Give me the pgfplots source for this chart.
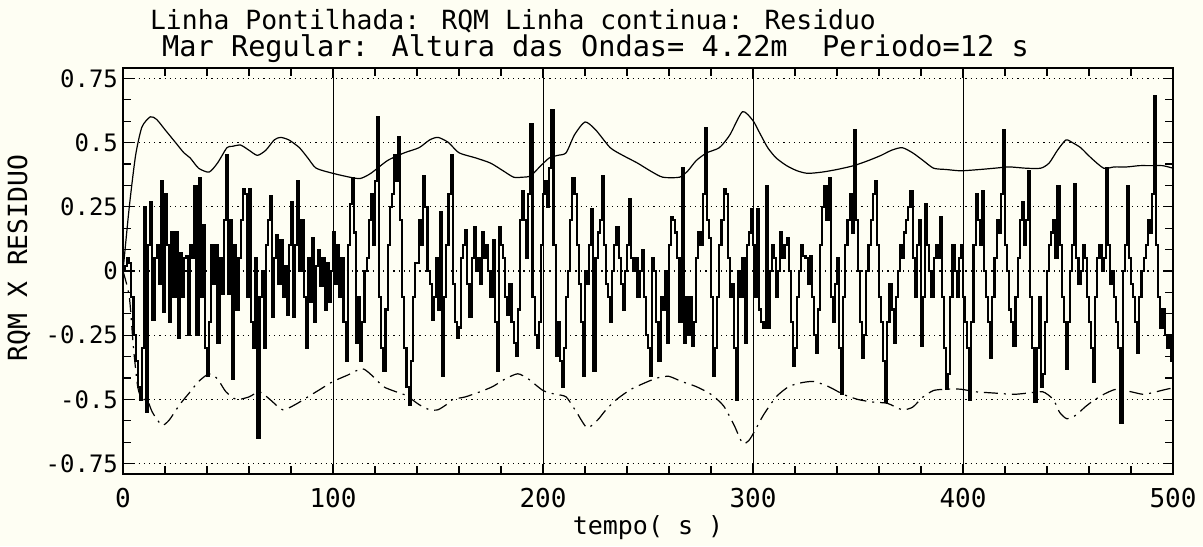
\documentclass[border=0pt]{standalone}
\usepackage{fontspec}
\setmainfont{DejaVu Sans Mono}
\usepackage{pgfplots}
\pgfplotsset{compat=1.18}
\definecolor{paper}{RGB}{254,254,243}
\begin{document}
\begin{tikzpicture}
\fill[paper] (0pt,0pt) rectangle (601.5pt,273pt);
\path[use as bounding box] (0pt,0pt) rectangle (601.5pt,273pt);
\begin{axis}[
  at={(61.5pt,36pt)}, anchor=south west,
  width=525pt, height=203pt, scale only axis,
  xmin=0, xmax=500, ymin=-0.79, ymax=0.79,
  axis line style={line width=1pt},
  xtick={0,100,200,300,400,500},
  ytick={-0.75,-0.5,-0.25,0,0.25,0.5,0.75},
  yticklabels={-0.75,-0.5,-0.25,0,0.25,0.5,0.75},
  xticklabels={0,100,200,300,400,500},
  minor x tick num=4, minor y tick num=2,
  tick align=inside, major tick length=5pt, minor tick length=4pt,
  tick style={line width=0.6pt,black},
  xmajorgrids, ymajorgrids,
  major x grid style={line width=0.5pt,black},
  major y grid style={line width=0.6pt,black,dotted},
  xticklabel style={font=\fontsize{13}{13}\selectfont, yshift=-3.5pt},
  yticklabel style={font=\fontsize{12}{12}\selectfont, xshift=1pt},
  clip=true,
]
% residual
\addplot[const plot, black, line width=1.05pt] coordinates {
(0,0)(1,0.02)(2,0.05)(3,0.03)(4,-0.1)(5,-0.25)(6,-0.35)(7,-0.45)(8,-0.5)(9,-0.3)
(10,0.25)(11,-0.55)(12,0.1)(13,0.27)(14,-0.19)(15,0.05)(16,0.1)(17,-0.05)(18,0.35)(19,-0.16)
(20,0.3)(21,0.1)(22,-0.2)(23,0.15)(24,-0.1)(25,0.15)(26,-0.26)(27,0.07)(28,-0.1)(29,0.05)
(30,0.06)(31,-0.25)(32,0.1)(33,0.05)(34,0.33)(35,-0.25)(36,0.36)(37,-0.1)(38,0.18)(39,-0.3)
(40,-0.41)(41,-0.2)(42,0.1)(43,-0.05)(44,0.1)(45,-0.28)(46,0.05)(47,-0.09)(48,0.2)(49,0.45)
(50,-0.09)(51,0.2)(52,-0.42)(53,0.1)(54,-0.15)(55,0.05)(56,0.2)(57,0.32)(58,0.3)(59,-0.1)
(60,0.32)(61,-0.2)(62,-0.3)(63,0.05)(64,-0.65)(65,-0.1)(66,0.0)(67,-0.3)(68,0.1)(69,0.2)
(70,0.29)(71,-0.18)(72,0.05)(73,0.14)(74,-0.05)(75,0.12)(76,-0.1)(77,0.02)(78,-0.17)(79,0.1)
(80,0.27)(81,-0.18)(82,0.1)(83,0.35)(84,0.0)(85,0.2)(86,-0.1)(87,-0.3)(88,0.05)(89,-0.12)
(90,0.13)(91,-0.2)(92,0.02)(93,0.08)(94,-0.06)(95,0.05)(96,-0.15)(97,0.03)(98,-0.12)(99,0.0)
(100,0.15)(101,-0.05)(102,0.1)(103,-0.1)(104,0.05)(105,-0.2)(106,-0.35)(107,0.1)(108,0.26)(109,0.36)
(110,0.15)(111,-0.28)(112,-0.1)(113,-0.35)(114,-0.2)(115,0.0)(116,0.05)(117,0.2)(118,0.3)(119,0.1)
(120,0.35)(121,0.6)(122,-0.1)(123,-0.3)(124,-0.39)(125,-0.15)(126,0.1)(127,0.25)(128,0.3)(129,0.45)
(130,0.35)(131,0.52)(132,0.2)(133,-0.1)(134,-0.3)(135,-0.45)(136,-0.52)(137,-0.35)(138,-0.1)(139,0.03)
(140,0.03)(141,0.2)(142,0.1)(143,0.37)(144,0.25)(145,0.0)(146,-0.05)(147,-0.19)(148,-0.1)(149,0.05)
(150,-0.15)(151,0.23)(152,-0.41)(153,-0.1)(154,0.1)(155,0.3)(156,0.45)(157,-0.05)(158,-0.2)(159,-0.26)
(160,-0.22)(161,0.05)(162,0.1)(163,0.16)(164,-0.05)(165,-0.18)(166,0.05)(167,0.17)(168,0.0)(169,0.05)
(170,-0.05)(171,0.15)(172,0.05)(173,0.1)(174,0.0)(175,-0.1)(176,0.12)(177,-0.2)(178,-0.39)(179,0.17)
(180,0.1)(181,0.05)(182,-0.1)(183,-0.17)(184,-0.05)(185,-0.2)(186,-0.28)(187,-0.33)(188,-0.15)(189,0.2)
(190,0.31)(191,0.2)(192,0.05)(193,0.3)(194,0.57)(195,-0.1)(196,-0.25)(197,-0.3)(198,-0.2)(199,0.1)
(200,0.3)(201,0.35)(202,0.25)(203,0.4)(204,0.625)(205,0.1)(206,-0.33)(207,-0.2)(208,-0.35)(209,-0.45)
(210,-0.3)(211,-0.1)(212,0.0)(213,0.2)(214,0.36)(215,0.3)(216,0.1)(217,-0.05)(218,-0.2)(219,-0.41)
(220,0.0)(221,-0.05)(222,0.1)(223,0.24)(224,-0.39)(225,0.05)(226,0.15)(227,0.2)(228,0.37)(229,0.1)
(230,-0.05)(231,-0.1)(232,-0.2)(233,0.0)(234,0.1)(235,0.17)(236,0.05)(237,-0.05)(238,-0.15)(239,0.0)
(240,0.1)(241,0.28)(242,0.05)(243,0.0)(244,0.05)(245,-0.1)(246,0.0)(247,0.08)(248,-0.1)(249,-0.25)
(250,-0.3)(251,-0.41)(252,0.05)(253,0.0)(254,-0.2)(255,-0.35)(256,-0.1)(257,-0.15)(258,0.0)(259,-0.28)
(260,0.1)(261,0.21)(262,0.2)(263,0.15)(264,0.05)(265,-0.2)(266,0.4)(267,-0.28)(268,-0.1)(269,-0.25)
(270,-0.1)(271,-0.29)(272,-0.2)(273,0.05)(274,0.15)(275,0.1)(276,0.3)(277,0.555)(278,0.2)(279,0.13)
(280,-0.1)(281,-0.41)(282,-0.3)(283,-0.1)(284,0.1)(285,0.2)(286,0.32)(287,0.3)(288,0.05)(289,-0.1)
(290,-0.05)(291,-0.3)(292,-0.5)(293,0.0)(294,-0.1)(295,0.05)(296,-0.28)(297,0.1)(298,0.15)(299,0.24)
(300,0.1)(301,-0.1)(302,0.24)(303,-0.15)(304,-0.2)(305,-0.22)(306,0.33)(307,-0.22)(308,0.0)(309,0.1)
(310,0.05)(311,-0.1)(312,0.0)(313,0.15)(314,0.05)(315,0.1)(316,0.13)(317,0.0)(318,-0.2)(319,-0.37)
(320,-0.3)(321,-0.1)(322,0.0)(323,0.1)(324,0.06)(325,0.05)(326,-0.05)(327,0.06)(328,-0.1)(329,-0.25)
(330,-0.32)(331,-0.15)(332,0.1)(333,0.25)(334,0.33)(335,0.2)(336,0.36)(337,-0.1)(338,-0.2)(339,-0.05)
(340,0.05)(341,-0.3)(342,-0.48)(343,-0.1)(344,0.1)(345,0.2)(346,0.3)(347,0.15)(348,0.55)(349,0.2)
(350,0.0)(351,-0.2)(352,-0.34)(353,-0.25)(354,0.0)(355,0.1)(356,0.2)(357,0.3)(358,0.35)(359,0.1)
(360,-0.1)(361,-0.2)(362,-0.35)(363,-0.51)(364,-0.2)(365,-0.05)(366,-0.15)(367,-0.28)(368,-0.1)(369,0.0)
(370,0.1)(371,0.05)(372,0.15)(373,0.2)(374,0.25)(375,0.31)(376,0.05)(377,-0.1)(378,0.1)(379,0.2)
(380,-0.29)(381,-0.1)(382,0.26)(383,0.1)(384,0.0)(385,-0.1)(386,0.05)(387,0.1)(388,0.05)(389,0.21)
(390,-0.1)(391,-0.3)(392,-0.46)(393,-0.4)(394,-0.1)(395,0.1)(396,0.0)(397,-0.1)(398,0.05)(399,0.1)
(400,-0.1)(401,-0.2)(402,-0.3)(403,-0.5)(404,-0.2)(405,0.1)(406,0.3)(407,0.2)(408,0.1)(409,0.31)
(410,0.0)(411,-0.1)(412,-0.2)(413,-0.34)(414,-0.1)(415,0.05)(416,0.2)(417,0.15)(418,0.3)(419,0.55)
(420,0.1)(421,0.0)(422,-0.15)(423,-0.2)(424,-0.29)(425,-0.1)(426,0.05)(427,0.2)(428,0.27)(429,0.1)
(430,0.2)(431,0.39)(432,-0.1)(433,-0.3)(434,-0.51)(435,-0.3)(436,-0.1)(437,-0.45)(438,-0.4)(439,-0.2)
(440,0.0)(441,0.1)(442,0.15)(443,0.2)(444,0.05)(445,0.33)(446,0.1)(447,-0.1)(448,-0.2)(449,-0.38)
(450,-0.2)(451,0.0)(452,0.1)(453,0.34)(454,0.05)(455,-0.05)(456,0.0)(457,0.1)(458,0.05)(459,-0.1)
(460,-0.2)(461,-0.3)(462,-0.43)(463,-0.1)(464,0.05)(465,0.1)(466,0.0)(467,0.05)(468,0.4)(469,0.1)
(470,-0.05)(471,0.0)(472,-0.1)(473,-0.2)(474,-0.3)(475,-0.59)(476,0.0)(477,0.1)(478,0.33)(479,0.05)
(480,-0.05)(481,-0.1)(482,-0.2)(483,-0.32)(484,-0.1)(485,0.0)(486,0.05)(487,0.1)(488,0.2)(489,0.15)
(490,0.3)(491,0.68)(492,0.1)(493,-0.1)(494,-0.22)(495,-0.15)(496,-0.25)(497,-0.3)(498,-0.25)(499,-0.35)
(500,-0.3)
};
% RQM upper
\addplot[black, line width=0.6pt, smooth, tension=0.4] coordinates {
(0,0)(3,0.25)(6,0.45)(9,0.56)(13,0.6)(16,0.59)(20,0.55)(25,0.5)(29,0.46)(32,0.44)(36,0.40)
(41,0.385)(45,0.42)(49.5,0.48)(52,0.485)(56,0.49)(60,0.47)(64,0.45)(68,0.47)(72,0.51)(75,0.52)
(79,0.51)(84,0.48)(88,0.44)(92,0.40)(100,0.38)(108,0.365)(113,0.36)(118,0.38)(126,0.43)(134,0.46)
(141,0.48)(146,0.51)(150,0.52)(155,0.5)(160,0.46)(168,0.44)(175,0.42)(181,0.39)(186,0.365)(190,0.365)
(194,0.37)(199,0.41)(203,0.44)(207,0.45)(211,0.46)(215,0.53)(220,0.58)(225,0.55)(232,0.48)(238,0.45)
(245,0.42)(251,0.39)(257,0.365)(265,0.365)(269,0.39)(273,0.43)(278,0.46)(284,0.48)(289,0.53)(295,0.62)
(300,0.585)(303,0.54)(307,0.48)(311,0.44)(316,0.41)(321,0.39)(326,0.38)(333,0.385)(340,0.395)(348,0.41)
(355,0.43)(361,0.45)(366,0.47)(371,0.48)(376,0.46)(381,0.43)(386,0.40)(392,0.395)(399,0.39)(408,0.395)
(415,0.40)(422,0.405)(430,0.40)(437,0.40)(441,0.42)(445,0.47)(449,0.51)(452,0.50)(456,0.48)(461,0.44)
(467,0.40)(472,0.405)(478,0.405)(484,0.41)(489,0.41)(495,0.41)(500,0.40)
};
% RQM lower
\addplot[black, line width=0.6pt, smooth, tension=0.4, dash pattern=on 7pt off 3pt on 1pt off 3pt] coordinates {
(0,0)(3,-0.1)(5,-0.3)(7,-0.45)(9,-0.5)(11.5,-0.5)(14,-0.55)(18.5,-0.6)(22,-0.58)(27,-0.52)(32,-0.47)
(36,-0.43)(41,-0.40)(45,-0.42)(49,-0.47)(54,-0.5)(60,-0.49)(65,-0.47)(70,-0.5)(76,-0.54)(82,-0.52)
(88,-0.49)(94,-0.46)(100,-0.43)(107,-0.405)(114,-0.38)(119,-0.41)(124,-0.45)(130,-0.47)(135,-0.485)
(141,-0.52)(146,-0.54)(150,-0.54)(154,-0.52)(157,-0.5)(163,-0.49)(170,-0.47)(176,-0.45)(182,-0.42)
(188,-0.40)(193,-0.42)(200,-0.465)(206,-0.48)(211,-0.49)(216,-0.55)(221,-0.61)(226,-0.58)(230,-0.54)
(235,-0.5)(242,-0.46)(250,-0.43)(255,-0.415)(260,-0.41)(266,-0.43)(273,-0.45)(280,-0.48)(286,-0.525)
(291,-0.6)(295,-0.67)(298,-0.66)(301,-0.62)(305,-0.56)(311,-0.49)(317,-0.45)(323,-0.435)(329,-0.43)
(336,-0.45)(343,-0.48)(350,-0.5)(357,-0.51)(364,-0.515)(371,-0.54)(376,-0.53)(381,-0.49)(386,-0.465)
(392,-0.46)(399,-0.46)(406,-0.47)(415,-0.475)(424,-0.48)(431,-0.475)(438,-0.47)(443,-0.5)(446,-0.55)
(449.5,-0.575)(454,-0.56)(458,-0.53)(462,-0.505)(467,-0.48)(473,-0.46)(480,-0.47)(486,-0.48)(492,-0.47)
(497,-0.46)(500,-0.455)
};
\end{axis}
\node[anchor=base, font=\fontsize{13.2}{13.2}\selectfont] at (256.5pt,258pt) {Linha Pontilhada: RQM Linha continua: Residuo};
\node[anchor=base, font=\fontsize{14.3}{14.3}\selectfont] at (297.75pt,244.5pt) {Mar Regular: Altura das Ondas= 4.22m~~Periodo=12 s};
\node[rotate=90, font=\fontsize{13.2}{13.2}\selectfont] at (9.5pt,144pt) {RQM X RESIDUO};
\node[font=\fontsize{12.5}{12.5}\selectfont] at (324pt,9pt) {tempo( s )};
\end{tikzpicture}
\end{document}
